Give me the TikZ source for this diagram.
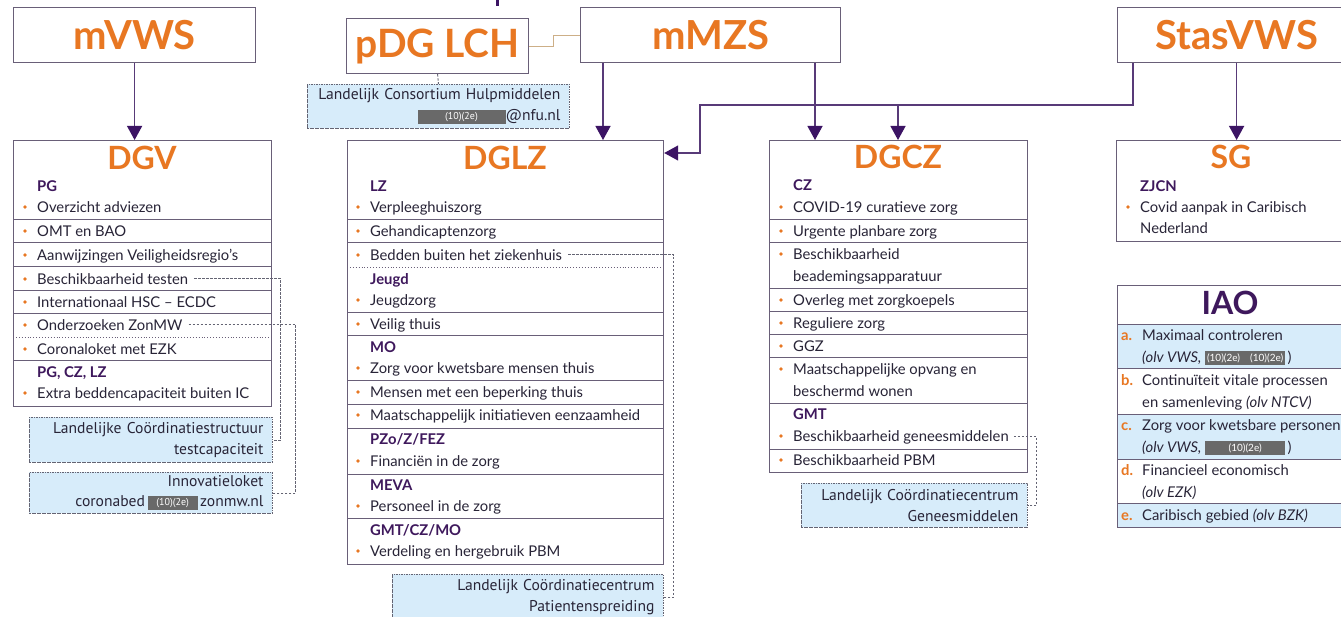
\documentclass[tikz,border=0pt]{standalone}
\usepackage{fontspec}
\setmainfont{Lato}
\newfontfamily\notefont{PT Sans}
\usetikzlibrary{arrows.meta}
\definecolor{orng}{RGB}{232,119,34}
\definecolor{hdcol}{RGB}{62,24,92}
\definecolor{txtcol}{RGB}{40,36,55}
\definecolor{boxline}{RGB}{105,95,120}
\definecolor{connline}{RGB}{88,58,120}
\definecolor{arrfill}{RGB}{60,20,100}
\definecolor{notefill}{RGB}{215,236,250}
\definecolor{notebd}{RGB}{100,100,115}
\definecolor{redg}{RGB}{105,105,105}
\definecolor{tan}{RGB}{205,175,135}
\newcommand\redact[2]{{\setlength{\fboxsep}{0pt}\colorbox{redg}{\parbox[c][14pt][c]{#1}{\centering\color{white}\fontsize{10}{10}\selectfont #2}}}}
\newcommand\bi[4]{\fill[orng] (#2-12,#3) circle (1.8); \node[itm] (#1) at (#2,#3) {#4};}
\newcommand\hd[4]{\node[hd] (#1) at (#2,#3) {#4};}
\begin{document}
\begin{tikzpicture}[x=1pt,y=-1pt,
  box/.style={draw=boxline, line width=1.2pt, fill=white, inner sep=0pt, anchor=north west},
  topt/.style={box, font=\bfseries\fontsize{40}{40}\selectfont, text=orng},
  dgt/.style={font=\bfseries\fontsize{32}{32}\selectfont, text=orng, inner sep=0pt},
  itm/.style={anchor=mid west, inner sep=0pt, yshift=-2.5pt, font=\fontsize{14.8}{16}\selectfont, text=txtcol},
  hd/.style={itm, font=\bfseries\fontsize{14.8}{16}\selectfont, text=hdcol},
  sepl/.style={draw=boxline, line width=1pt},
  dsep/.style={draw=boxline, line width=0.9pt, dotted},
  note/.style={draw=notebd, fill=notefill, line width=0.9pt, dash pattern=on 1.6pt off 0.9pt,
     inner xsep=9pt, inner ysep=0pt, anchor=north west, align=right,
     font=\notefont\fontsize{15.6}{21}\selectfont, text=txtcol},
  dl/.style={draw=notebd, line width=0.9pt, dash pattern=on 2.5pt off 1.5pt},
  conn/.style={draw=connline, line width=1.3pt},
  arr/.style={conn, -{Triangle[width=15pt,length=14pt,fill=arrfill,color=arrfill]}},
  iaot/.style={itm},
  lett/.style={itm, font=\bfseries\fontsize{14.8}{16}\selectfont, text=orng}
]
\useasboundingbox (0,0) rectangle (1341,617);
\fill[white] (0,0) rectangle (1341,617);

% fragment at top edge
\draw[draw=arrfill, line width=3pt] (497,0) -- (497,6);

% ---------- top boxes ----------
\node[topt, minimum width=242pt, minimum height=55pt] (mvws) at (13,7) {mVWS};
\node[topt, minimum width=182pt, minimum height=55pt, font=\bfseries\fontsize{39}{39}\selectfont] (lch) at (346,18) {pDG LCH};
\node[topt, minimum width=260pt, minimum height=55pt] (mmzs) at (580,7) {mMZS};
\node[topt, minimum width=238pt, minimum height=55pt] (stas) at (1117,7) {StasVWS};

% LCH note
\node[note, text width=244pt, minimum height=44pt] (lchnote) at (307,84)
  {Landelijk Consortium Hulpmiddelen\\\redact{88pt}{(10)(2e)}@nfu.nl};
\draw[dl] (lch.south) -- (lchnote.north);
\coordinate (lchm) at (553,30);
\draw[draw=tan, line width=1pt] (lch.east) -| (lchm |- mmzs.west) -- (mmzs.west);

% ---------- DGV ----------
\node[box, minimum width=258pt, minimum height=266pt] (dgv) at (13,140) {};
\node[dgt] (dgvt) at (142,158) {DGV};
\hd{dgvh1}{37}{186}{PG}
\bi{dgv1}{37}{207}{Overzicht adviezen}
\draw[sepl] (13,220) -- (271,220);
\bi{dgv2}{37}{231}{OMT en BAO}
\draw[sepl] (13,243) -- (271,243);
\bi{dgv3}{37}{255}{Aanwijzingen Veiligheidsregio’s}
\draw[sepl] (13,267) -- (271,267);
\bi{dgv4}{37}{279}{Beschikbaarheid testen}
\draw[sepl] (13,291) -- (271,291);
\bi{dgv5}{37}{302}{Internationaal HSC – ECDC}
\draw[sepl] (13,314) -- (271,314);
\bi{dgv6}{37}{325}{Onderzoeken ZonMW}
\draw[dsep] (13,337) -- (271,337);
\bi{dgv7}{37}{349}{Coronaloket met EZK}
\draw[sepl] (13,361) -- (271,361);
\hd{dgvh2}{37}{372}{PG, CZ, LZ}
\bi{dgv8}{37}{393}{Extra beddencapaciteit buiten IC}

\node[note, text width=225pt, minimum height=45pt] (n1) at (29,417)
  {Landelijke Coördinatiestructuur\\testcapaciteit};
\node[note, text width=225pt, minimum height=41pt, font=\notefont\fontsize{15.6}{20}\selectfont] (n2) at (29,472)
  {Innovatieloket\\coronabed\,\redact{50pt}{(10)(2e)}\,zonmw.nl};
\draw[dl] ([xshift=6pt]dgv4.east) -| ([xshift=8pt]n1.east) -- (n1.east);
\draw[dl] ([xshift=6pt]dgv6.east) -| ([xshift=23pt]n2.east) -- (n2.east);

% ---------- DGLZ ----------
\node[box, minimum width=316pt, minimum height=424pt] (dglz) at (347,140) {};
\node[dgt] (dglzt) at (505,158) {DGLZ};
\hd{lzh1}{370}{186}{LZ}
\bi{lz1}{370}{207}{Verpleeghuiszorg}
\draw[sepl] (347,220) -- (663,220);
\bi{lz2}{370}{231}{Gehandicaptenzorg}
\draw[sepl] (347,243) -- (663,243);
\bi{lz3}{370}{255}{Bedden buiten het ziekenhuis}
\draw[dsep] (347,267) -- (663,267);
\hd{lzh2}{370}{279}{Jeugd}
\bi{lz4}{370}{300}{Jeugdzorg}
\draw[sepl] (347,313) -- (663,313);
\bi{lz5}{370}{324}{Veilig thuis}
\draw[sepl] (347,336) -- (663,336);
\hd{lzh3}{370}{347}{MO}
\bi{lz6}{370}{368}{Zorg voor kwetsbare mensen thuis}
\draw[sepl] (347,381) -- (663,381);
\bi{lz7}{370}{392}{Mensen met een beperking thuis}
\draw[sepl] (347,404) -- (663,404);
\bi{lz8}{370}{415}{Maatschappelijk initiatieven eenzaamheid}
\draw[sepl] (347,428) -- (663,428);
\hd{lzh4}{370}{439}{PZo/Z/FEZ}
\bi{lz9}{370}{461}{Financiën in de zorg}
\draw[sepl] (347,474) -- (663,474);
\hd{lzh5}{370}{485}{MEVA}
\bi{lz10}{370}{506}{Personeel in de zorg}
\draw[sepl] (347,518) -- (663,518);
\hd{lzh6}{370}{530}{GMT/CZ/MO}
\bi{lz11}{370}{551}{Verdeling en hergebruik PBM}

\node[note, text width=253pt, minimum height=46pt] (n3) at (392,574)
  {Landelijk Coördinatiecentrum\\Patientenspreiding};
\draw[dl] ([xshift=6pt]lz3.east) -| ([xshift=10pt]n3.east) -- (n3.east);

% ---------- DGCZ ----------
\node[box, minimum width=258pt, minimum height=332pt] (dgcz) at (769,140) {};
\node[dgt] (dgczt) at (898,157) {DGCZ};
\hd{czh1}{793}{185}{CZ}
\bi{cz1}{793}{207}{COVID-19 curatieve zorg}
\draw[sepl] (769,220) -- (1027,220);
\bi{cz2}{793}{231}{Urgente planbare zorg}
\draw[sepl] (769,243) -- (1027,243);
\bi{cz3}{793}{254}{Beschikbaarheid}
\node[itm] (cz3b) at (793,276) {beademingsapparatuur};
\draw[sepl] (769,289) -- (1027,289);
\bi{cz4}{793}{300}{Overleg met zorgkoepels}
\draw[sepl] (769,312) -- (1027,312);
\bi{cz5}{793}{323}{Reguliere zorg}
\draw[sepl] (769,335) -- (1027,335);
\bi{cz6}{793}{346}{GGZ}
\draw[sepl] (769,358) -- (1027,358);
\bi{cz7}{793}{369}{Maatschappelijke opvang en}
\node[itm] (cz7b) at (793,391) {beschermd wonen};
\draw[sepl] (769,403) -- (1027,403);
\hd{czh2}{793}{414}{GMT}
\bi{cz8}{793}{436}{Beschikbaarheid geneesmiddelen}
\draw[sepl] (769,449) -- (1027,449);
\bi{cz9}{793}{460}{Beschikbaarheid PBM}

\node[note, text width=208pt, minimum height=44pt] (n4) at (801,483)
  {Landelijk Coördinatiecentrum\\Geneesmiddelen};
\draw[dl] ([xshift=5pt]cz8.east) -| ([xshift=9pt]n4.east) -- (n4.east);

% ---------- SG ----------
\node[box, minimum width=240pt, minimum height=101pt] (sg) at (1116,140) {};
\node[dgt] (sgt) at (1231,157) {SG};
\hd{sgh}{1140}{186}{ZJCN}
\bi{sg1}{1140}{207}{Covid aanpak in Caribisch}
\node[itm] (sg1b) at (1140,228) {Nederland};

% ---------- IAO ----------
\fill[notefill] (1117,325) rectangle (1356,369);
\fill[notefill] (1117,414) rectangle (1356,459);
\fill[notefill] (1117,503) rectangle (1356,527);
\node[box, fill=none, minimum width=239pt, minimum height=242pt] (iao) at (1117,285) {};
\node[dgt, text=hdcol] (iaot) at (1230,303) {IAO};
\draw[sepl] (1117,325) -- (1356,325);
\draw[sepl] (1117,369) -- (1356,369);
\draw[sepl] (1117,414) -- (1356,414);
\draw[sepl] (1117,459) -- (1356,459);
\draw[sepl] (1117,503) -- (1356,503);
\node[lett] (la) at (1121,335) {a.};
\node[iaot] (ia1) at (1142,335) {Maximaal controleren};
\node[iaot] (ia2) at (1142,357) {\textit{(olv VWS,} \redact{80pt}{(10)(2e)\quad(10)(2e)}\,)};
\node[lett] (lb) at (1121,380) {b.};
\node[iaot] (ib1) at (1142,380) {Continuïteit vitale processen};
\node[iaot] (ib2) at (1142,402) {en samenleving \textit{(olv NTCV)}};
\node[lett] (lc) at (1121,425) {c.};
\node[iaot] (ic1) at (1142,425) {Zorg voor kwetsbare personen};
\node[iaot] (ic2) at (1142,447) {\textit{(olv VWS,} \redact{80pt}{(10)(2e)}\,)};
\node[lett] (ld) at (1121,470) {d.};
\node[iaot] (id1) at (1142,470) {Financieel economisch};
\node[iaot] (id2) at (1142,492) {\textit{(olv EZK)}};
\node[lett] (le) at (1121,515) {e.};
\node[iaot] (ie1) at (1142,515) {Caribisch gebied \textit{(olv BZK)}};

% ---------- connectors ----------
\draw[arr] (mvws.south) -- (mvws.south |- dgv.north);
\draw[arr] ([xshift=23pt]mmzs.south west) -- ([xshift=23pt]mmzs.south west |- dglz.north);
\draw[arr] ([xshift=235pt]mmzs.south west) -- ([xshift=235pt]mmzs.south west |- dgcz.north);
\coordinate (jn) at (700,105);
\coordinate (jt) at (898,105);
\draw[arr] ([xshift=16pt]stas.south west) |- (jn) |- ([yshift=-13pt]dglz.north east);
\draw[arr] (jt) -- (jt |- dgcz.north);
\draw[arr] (stas.south) -- (stas.south |- sg.north);
\end{tikzpicture}
\end{document}
